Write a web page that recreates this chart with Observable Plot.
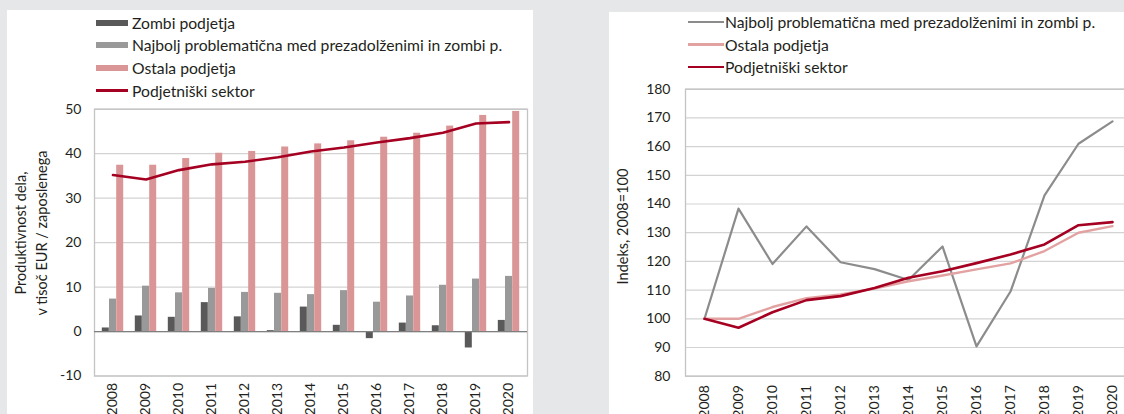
<!DOCTYPE html>
<html><head><meta charset="utf-8">
<script src="https://cdn.jsdelivr.net/npm/d3@7"></script>
<script src="https://cdn.jsdelivr.net/npm/@observablehq/plot@0.6"></script>
<style>
body{margin:0;width:1124px;height:414px;overflow:hidden;background:#e6e7e8;position:relative;font-family:Lato,sans-serif;color:#231f20}
.panel{position:absolute;background:#fff}
.panel svg{position:absolute;left:0;top:0;overflow:visible;max-width:none!important}
.leg{position:absolute;display:flex;align-items:center;height:22px;font-size:15.7px;white-space:nowrap}
.sw{display:inline-block;width:32px;margin-right:4px}
.ytitle{position:absolute;text-align:center;font-size:14.5px;line-height:21px;transform:rotate(-90deg);white-space:nowrap}
</style></head>
<body>
<div id="left" class="panel" style="left:7px;top:10px;width:526px;height:404px"></div>
<div id="right" class="panel" style="left:609px;top:12px;width:515px;height:402px"></div>
<script>
const years = ["2008","2009","2010","2011","2012","2013","2014","2015","2016","2017","2018","2019","2020"];
// Left chart: labour productivity, thousand EUR per employee
const zombi   = [0.8, 3.5, 3.2, 6.5, 3.3, 0.2, 5.5, 1.4, -1.6, 1.9, 1.3, -3.7, 2.5];
const najbolj = [7.3, 10.2, 8.7, 9.7, 8.8, 8.6, 8.3, 9.2, 6.6, 8.0, 10.4, 11.8, 12.4];
const ostala  = [37.4, 37.4, 38.9, 40.1, 40.5, 41.5, 42.2, 42.9, 43.7, 44.6, 46.2, 48.6, 49.5];
const sektor  = [35.2, 34.2, 36.3, 37.6, 38.2, 39.2, 40.5, 41.4, 42.5, 43.5, 44.7, 46.8, 47.1];
const leftTicks = [-10, 0, 10, 20, 30, 40, 50];
// Right chart: index 2008=100
const idxNajbolj = [100, 138.4, 119.1, 132.2, 119.7, 117.3, 113.5, 125.2, 90.4, 109.5, 143.0, 161.0, 168.8];
const idxOstala  = [100, 100.0, 104.1, 107.2, 108.5, 110.5, 113.1, 115.1, 117.2, 119.3, 123.6, 130.0, 132.3];
const idxSektor  = [100, 96.9, 102.3, 106.5, 107.9, 110.7, 114.3, 116.6, 119.4, 122.4, 125.9, 132.6, 133.7];
const rightTicks = [80, 90, 100, 110, 120, 130, 140, 150, 160, 170, 180];

const leftLegend = [
  {label: "Zombi podjetja", color: "#595959", type: "bar"},
  {label: "Najbolj problematična med prezadolženimi in zombi p.", color: "#999999", type: "bar"},
  {label: "Ostala podjetja", color: "#da9696", type: "bar"},
  {label: "Podjetniški sektor", color: "#a50021", type: "line"}
];
const rightLegend = [
  {label: "Najbolj problematična med prezadolženimi in zombi p.", color: "#8c8c8c"},
  {label: "Ostala podjetja", color: "#e3a2a2"},
  {label: "Podjetniški sektor", color: "#a50021"}
];

const leftData = years.map((y, i) => ({year: y, zombi: zombi[i], najbolj: najbolj[i], ostala: ostala[i], sektor: sektor[i]}));
const rightData = years.map((y, i) => ({year: y, najbolj: idxNajbolj[i], ostala: idxOstala[i], sektor: idxSektor[i]}));

const font = {fontFamily: "Lato, sans-serif", fontSize: "14px", color: "#231f20", background: "transparent", overflow: "visible", maxWidth: "none"};
const fmt = d => String(d);

const leftChart = Plot.plot({
  width: 526, height: 404,
  marginLeft: 87, marginRight: 6, marginTop: 98.7, marginBottom: 38.5,
  style: font,
  x: {type: "band", domain: years, paddingInner: 0.784, paddingOuter: 0.392, align: 0.5},
  y: {domain: [-10, 50]},
  marks: [
    Plot.ruleY(leftTicks, {stroke: "#d3d3d3", strokeWidth: 1.2}),
    Plot.frame({stroke: "#c4c4c4", strokeWidth: 1.3}),
    Plot.barY(leftData, {x: "year", y: "zombi", fill: "#595959", dx: -7.2}),
    Plot.barY(leftData, {x: "year", y: "najbolj", fill: "#999999"}),
    Plot.barY(leftData, {x: "year", y: "ostala", fill: "#da9696", dx: 7.2}),
    Plot.ruleY([0], {stroke: "#7f7f7f", strokeWidth: 1.3}),
    Plot.lineY(leftData, {x: "year", y: "sektor", stroke: "#a50021", strokeWidth: 2.6}),
    Plot.axisY({ticks: leftTicks, tickFormat: fmt, tickSize: 0, tickPadding: 13, label: null, fontSize: 14}),
    Plot.axisX({tickSize: 0, tickRotate: -90, tickPadding: 7, label: null, fontSize: 14})
  ]
});
document.getElementById("left").appendChild(leftChart);

const rightChart = Plot.plot({
  width: 528, height: 402,
  marginLeft: 76, marginRight: 6, marginTop: 76.7, marginBottom: 38.3,
  style: font,
  x: {type: "band", domain: years, padding: 0},
  y: {domain: [80, 180]},
  marks: [
    Plot.ruleY(rightTicks, {stroke: "#d3d3d3", strokeWidth: 1.2}),
    Plot.frame({stroke: "#c4c4c4", strokeWidth: 1.3}),
    Plot.lineY(rightData, {x: "year", y: "najbolj", stroke: "#8c8c8c", strokeWidth: 2.2}),
    Plot.lineY(rightData, {x: "year", y: "ostala", stroke: "#e3a2a2", strokeWidth: 2.4}),
    Plot.lineY(rightData, {x: "year", y: "sektor", stroke: "#a50021", strokeWidth: 2.6}),
    Plot.axisY({ticks: rightTicks, tickFormat: fmt, tickSize: 0, tickPadding: 15, label: null, fontSize: 14}),
    Plot.axisX({tickSize: 0, tickRotate: -90, tickPadding: 9, label: null, fontSize: 14})
  ]
});
document.getElementById("right").appendChild(rightChart);

// Legends
leftLegend.forEach((d, i) => {
  const row = document.createElement("div");
  row.className = "leg";
  row.style.left = "96px";
  row.style.top = (11.7 + i * 22.6) + "px";
  const sw = document.createElement("span");
  sw.className = "sw";
  sw.style.background = d.color;
  sw.style.height = d.type === "bar" ? "6px" : "2.5px";
  row.appendChild(sw);
  row.appendChild(document.createTextNode(d.label));
  document.body.appendChild(row);
});
rightLegend.forEach((d, i) => {
  const row = document.createElement("div");
  row.className = "leg";
  row.style.left = "688px";
  row.style.top = (11 + i * 22.5) + "px";
  const sw = document.createElement("span");
  sw.className = "sw";
  sw.style.width = "36px";
  sw.style.marginRight = "1px";
  sw.style.background = d.color;
  sw.style.height = "2.5px";
  row.appendChild(sw);
  row.appendChild(document.createTextNode(d.label));
  document.body.appendChild(row);
});

// Y titles
function yTitle(text, cx, cy) {
  const el = document.createElement("div");
  el.className = "ytitle";
  el.innerHTML = text;
  document.body.appendChild(el);
  const w = el.offsetWidth, h = el.offsetHeight;
  el.style.left = (cx - w / 2) + "px";
  el.style.top = (cy - h / 2) + "px";
}
yTitle("Produktivnost dela,<br>v tisoč EUR / zaposlenega", 31, 233);
yTitle("Indeks, 2008=100", 623, 226);
</script>
</body></html>
